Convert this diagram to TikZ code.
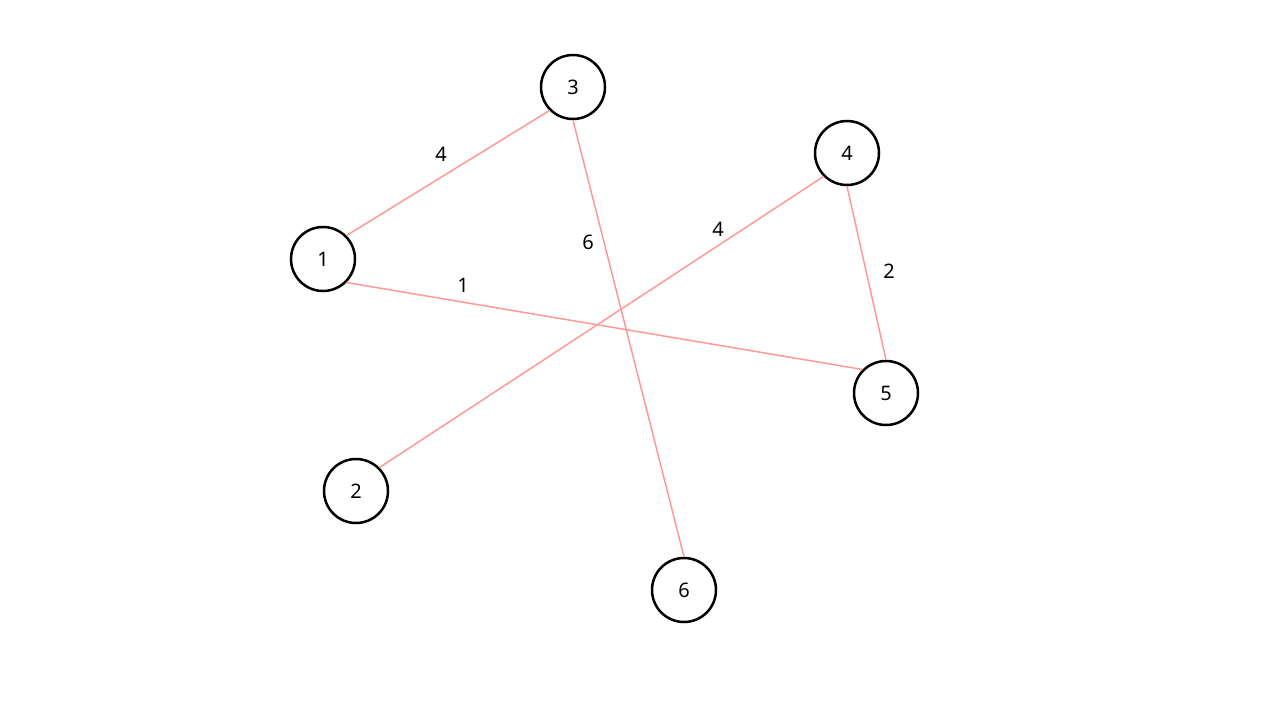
\documentclass[tikz,border=0pt]{standalone}
\usepackage{fontspec}
\setmainfont{Noto Sans}
\definecolor{edgec}{HTML}{FF9999}
\begin{document}
\begin{tikzpicture}[x=1pt,y=-1pt,
  vert/.style={circle,draw=black,line width=2.5pt,minimum size=64pt,inner sep=0pt,font=\fontsize{20}{24}\selectfont},
  edge/.style={draw=edgec,line width=1.5pt},
  wlab/.style={font=\fontsize{20}{24}\selectfont}]
\useasboundingbox (0,0) rectangle (1280,720);
\node[vert] (n3) at (573,87) {3};
\node[vert] (n4) at (847,153) {4};
\node[vert] (n1) at (323,259) {1};
\node[vert] (n5) at (886,393) {5};
\node[vert] (n2) at (356,491) {2};
\node[vert] (n6) at (684,590) {6};
\draw[edge] (n1.north east) -- (n3.south west);
\draw[edge] (n3.south) -- (n6.north);
\draw[edge] (n2.north east) -- (n4.south west);
\draw[edge] (n4.south) -- (n5.north);
\draw[edge] (n1.south east) -- (n5.north west);
\node[wlab] (l13) at (441,154) {4};
\node[wlab] (l36) at (588,242) {6};
\node[wlab] (l24) at (718,229) {4};
\node[wlab] (l45) at (889,271) {2};
\node[wlab] (l15) at (463,285) {1};
\end{tikzpicture}
\end{document}
